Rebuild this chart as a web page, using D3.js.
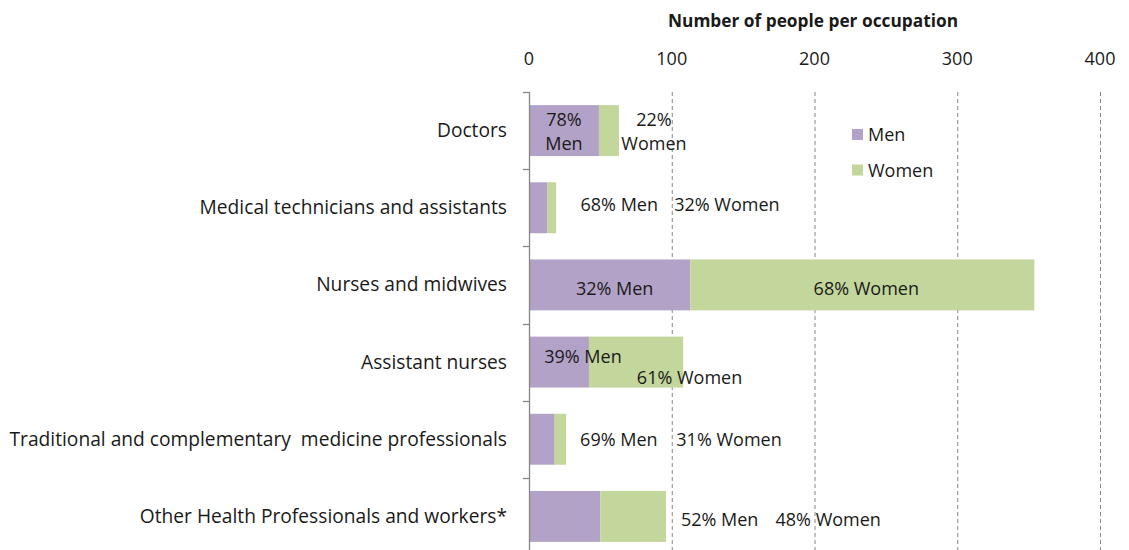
<!DOCTYPE html>
<html>
<head>
<meta charset="utf-8">
<script src="https://cdn.jsdelivr.net/npm/d3@7"></script>
<style>
  html, body { margin: 0; padding: 0; background: #fff; }
  svg { display: block; font-family: "Open Sans", Lato, sans-serif; }
</style>
</head>
<body>
<svg id="chart" width="1129" height="550"></svg>
<script>
// ---- data ----
const categories = [
  "Doctors",
  "Medical technicians and assistants",
  "Nurses and midwives",
  "Assistant nurses",
  "Traditional and complementary  medicine professionals",
  "Other Health Professionals and workers*"
];
const menValues   = [49, 13, 113, 42, 18, 50];
const womenValues = [14, 6, 241, 66, 8, 46];
const menPct      = [78, 68, 32, 39, 69, 52];
const womenPct    = [22, 32, 68, 61, 31, 48];
const xTicks      = [0, 100, 200, 300, 400];
const seriesNames = ["Men", "Women"];
const axisTitle   = "Number of people per occupation";

// label layout (pixel offsets from segment centre), kept separate from data
const menLabelOffset   = [[0, -4.5], [81, 3], [5, 10.5], [24, 0.5], [77, 6.5], [155, 9.5]];
const womenLabelOffset = [[45, -4.5], [175, 3], [4, 10.5], [53.5, 22], [168.6, 6.5], [195, 9.5]];
const twoLine = [true, false, false, false, false, false];

const colors = { Men: "#b3a2c7", Women: "#c3d69b" };
const textColor = "#1a1a1a";
const axisColor = "#868686";
const fs = 18;
const catFs = 19.2;

const svg = d3.select("#chart");
const x = d3.scaleLinear().domain([0, 400]).range([529, 1100]);
const y = d3.scaleBand().domain(categories).range([92, 555]).paddingInner(0.34).paddingOuter(0.17);

// title
svg.append("text")
  .attr("x", 813).attr("y", 27)
  .attr("text-anchor", "middle")
  .attr("font-weight", "bold").attr("font-size", 17.3)
  .attr("fill", textColor)
  .text(axisTitle);

// tick labels
svg.selectAll(".xtick").data(xTicks).join("text")
  .attr("class", "xtick")
  .attr("x", d => x(d)).attr("y", 65)
  .attr("text-anchor", "middle").attr("font-size", fs)
  .attr("fill", textColor)
  .text(d => d);

// gridlines
svg.selectAll(".grid").data(xTicks.filter(d => d > 0)).join("line")
  .attr("class", "grid")
  .attr("x1", d => x(d) + 0.5).attr("x2", d => x(d) + 0.5)
  .attr("y1", 92).attr("y2", 550)
  .attr("stroke", axisColor).attr("stroke-width", 1)
  .attr("stroke-dasharray", "4,3");

// bars
const stackData = categories.map((c, i) => ({ cat: c, Men: menValues[i], Women: womenValues[i] }));
const stack = d3.stack().keys(seriesNames)(stackData);
svg.append("g").selectAll("g").data(stack).join("g")
  .attr("fill", d => colors[d.key])
  .selectAll("rect").data(d => d).join("rect")
  .attr("x", d => x(d[0])).attr("width", d => x(d[1]) - x(d[0]))
  .attr("y", d => y(d.data.cat)).attr("height", y.bandwidth());

// category axis
const yAxisG = svg.append("g");
yAxisG.append("line")
  .attr("x1", 529.5).attr("x2", 529.5).attr("y1", 92).attr("y2", 550)
  .attr("stroke", axisColor).attr("stroke-width", 1.3);
const bounds = categories.map(c => y(c) - y.step() * y.paddingInner() / 2);
yAxisG.selectAll(".ytick").data(bounds).join("line")
  .attr("x1", 523).attr("x2", 529.5)
  .attr("y1", d => Math.round(d) + 0.5).attr("y2", d => Math.round(d) + 0.5)
  .attr("stroke", axisColor).attr("stroke-width", 1.3);

svg.selectAll(".cat").data(categories).join("text")
  .attr("class", "cat")
  .attr("x", 507).attr("y", d => y(d) + y.bandwidth() / 2 + 6.5)
  .attr("text-anchor", "end").attr("font-size", catFs)
  .attr("fill", textColor)
  .attr("xml:space", "preserve")
  .style("white-space", "pre")
  .text(d => d);

// data labels
const menLayer = stack[0], womenLayer = stack[1];
function addLabel(seg, i, name, pct, off) {
  const cx = x((seg[0] + seg[1]) / 2) + off[0];
  const cy = y(seg.data.cat) + y.bandwidth() / 2 + off[1];
  const t = svg.append("text")
    .attr("text-anchor", "middle").attr("font-size", fs)
    .attr("fill", textColor);
  if (twoLine[i]) {
    t.append("tspan").attr("x", cx).attr("y", cy).text(pct + "%");
    t.append("tspan").attr("x", cx).attr("y", cy + 24).text(name);
  } else {
    t.attr("x", cx).attr("y", cy).text(pct + "% " + name);
  }
}
categories.forEach((c, i) => {
  addLabel(menLayer[i], i, "Men", menPct[i], menLabelOffset[i]);
  addLabel(womenLayer[i], i, "Women", womenPct[i], womenLabelOffset[i]);
});

// legend
const leg = svg.append("g");
seriesNames.forEach((s, i) => {
  leg.append("rect").attr("x", 852).attr("y", 129 + i * 35.5)
    .attr("width", 11).attr("height", 11).attr("fill", colors[s]);
  leg.append("text").attr("x", 868).attr("y", 141 + i * 35.5)
    .attr("font-size", fs).attr("fill", textColor).text(s);
});
</script>
</body>
</html>
